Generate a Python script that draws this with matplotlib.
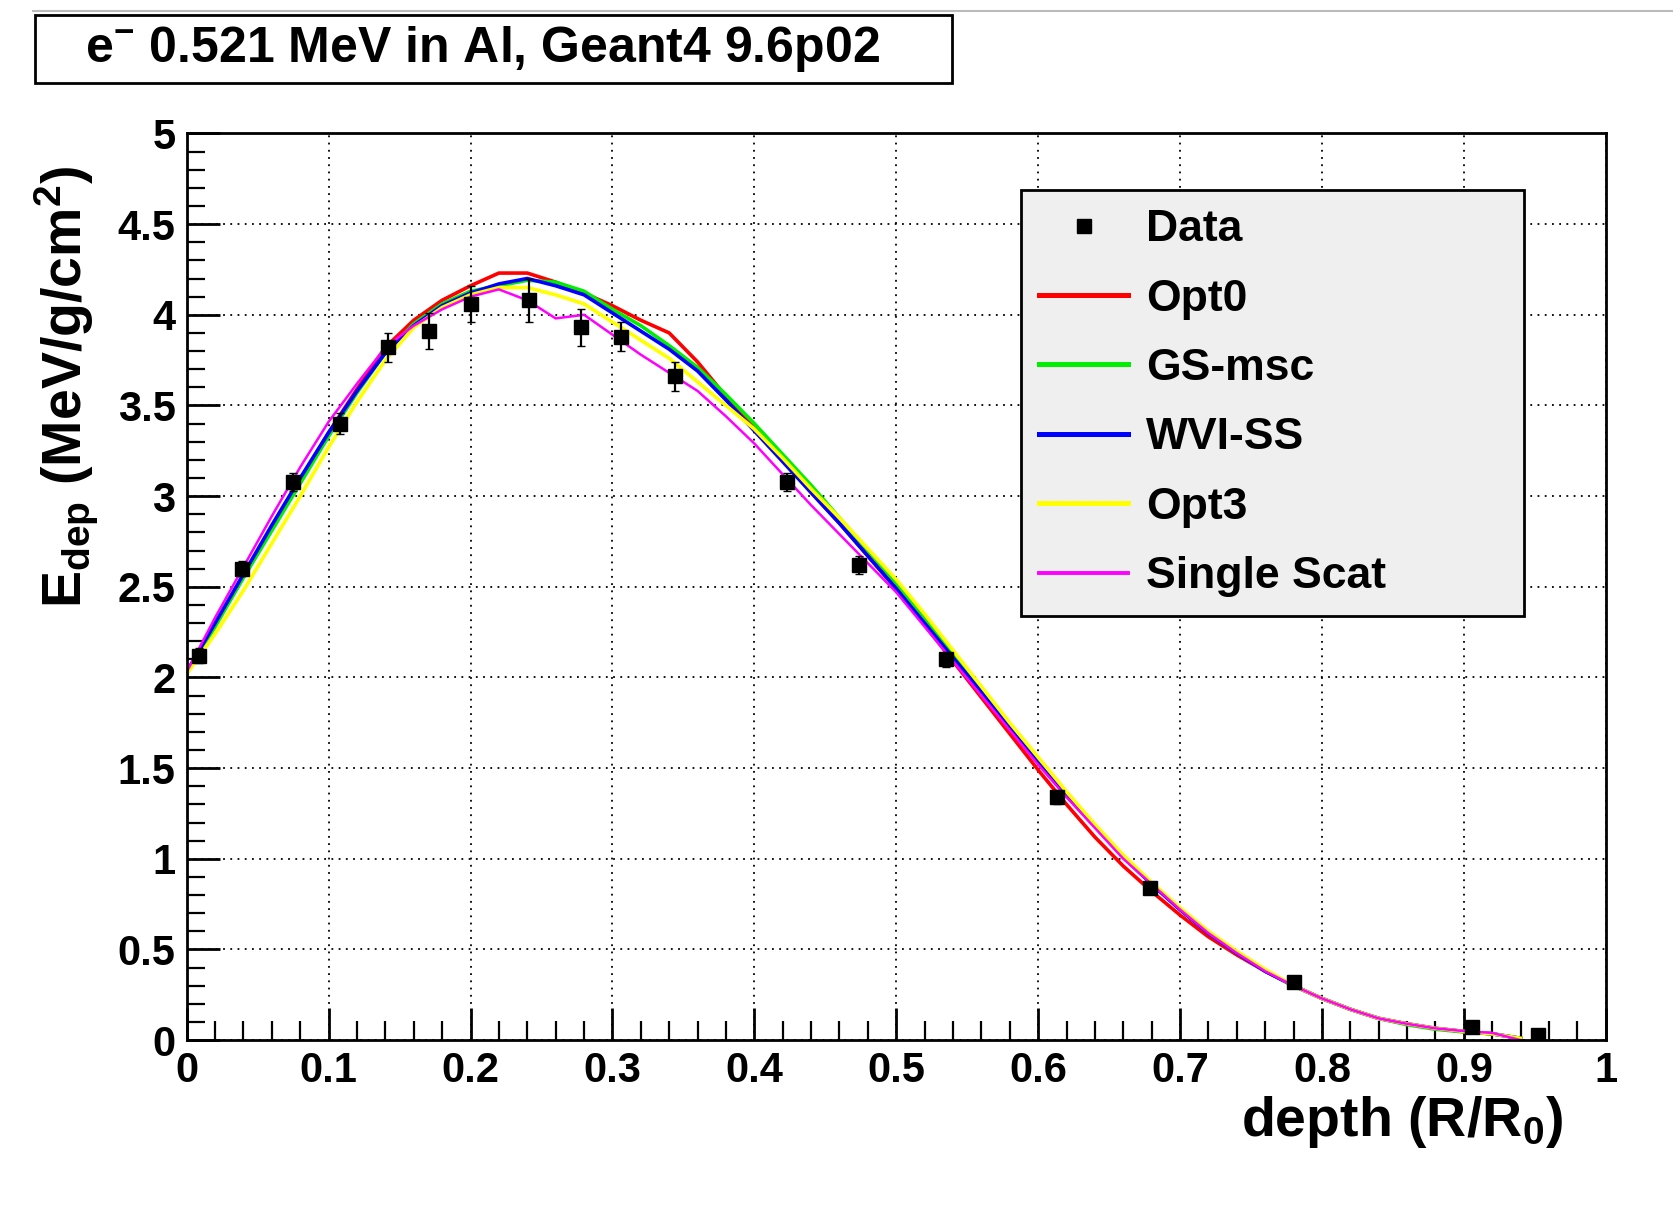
import matplotlib
matplotlib.use("Agg")
from matplotlib import pyplot as plt
from matplotlib.patches import Rectangle
from matplotlib.lines import Line2D
from matplotlib.ticker import MultipleLocator, FuncFormatter

plt.rcParams['font.family'] = ['Liberation Sans', 'DejaVu Sans']
plt.rcParams['font.weight'] = 'bold'
plt.rcParams['mathtext.fontset'] = 'custom'
plt.rcParams['mathtext.rm'] = 'Liberation Sans:bold'
plt.rcParams['mathtext.it'] = 'Liberation Sans:bold'
plt.rcParams['mathtext.bf'] = 'Liberation Sans:bold'

# measured data (black squares)
data_x = [0.009, 0.039, 0.075, 0.108, 0.142, 0.171, 0.200, 0.241, 0.278, 0.306,
          0.344, 0.423, 0.474, 0.535, 0.613, 0.679, 0.780, 0.906, 0.952]
data_y = [2.12, 2.60, 3.08, 3.40, 3.82, 3.91, 4.06, 4.08, 3.93, 3.88,
          3.66, 3.08, 2.62, 2.10, 1.34, 0.84, 0.32, 0.07, 0.03]
data_err = [0.04, 0.04, 0.05, 0.06, 0.08, 0.10, 0.10, 0.12, 0.10, 0.08,
            0.08, 0.05, 0.05, 0.04, 0.04, 0.03, 0.02, 0.01, 0.01]

# simulation depth bins
depth = [0.00, 0.02, 0.04, 0.06, 0.08, 0.10, 0.12, 0.14, 0.16, 0.18,
         0.20, 0.22, 0.24, 0.26, 0.28, 0.30, 0.32, 0.34, 0.36, 0.38,
         0.40, 0.42, 0.44, 0.46, 0.48, 0.50, 0.52, 0.54, 0.56, 0.58,
         0.60, 0.62, 0.64, 0.66, 0.68, 0.70, 0.72, 0.74, 0.76, 0.78,
         0.80, 0.82, 0.84, 0.86, 0.88, 0.90, 0.92, 0.94]

opt0 = [2.03, 2.29, 2.56, 2.83, 3.09, 3.35, 3.59, 3.82, 3.97, 4.08,
        4.16, 4.23, 4.23, 4.18, 4.12, 4.05, 3.97, 3.90, 3.74, 3.55,
        3.38, 3.20, 3.02, 2.85, 2.67, 2.49, 2.29, 2.09, 1.89, 1.69,
        1.49, 1.30, 1.12, 0.96, 0.82, 0.69, 0.57, 0.47, 0.38, 0.30,
        0.23, 0.17, 0.12, 0.09, 0.065, 0.048, 0.035, 0.01]
gs_msc = [2.02, 2.28, 2.55, 2.81, 3.07, 3.33, 3.57, 3.79, 3.95, 4.06,
          4.13, 4.16, 4.19, 4.18, 4.13, 4.03, 3.94, 3.83, 3.71, 3.56,
          3.40, 3.23, 3.06, 2.88, 2.70, 2.52, 2.33, 2.13, 1.93, 1.73,
          1.54, 1.35, 1.18, 1.01, 0.86, 0.72, 0.59, 0.48, 0.38, 0.30,
          0.23, 0.17, 0.12, 0.085, 0.06, 0.045, 0.035, 0.01]
wvi_ss = [2.03, 2.30, 2.57, 2.84, 3.10, 3.35, 3.58, 3.79, 3.94, 4.05,
          4.12, 4.17, 4.20, 4.16, 4.11, 4.01, 3.91, 3.81, 3.69, 3.53,
          3.36, 3.19, 3.02, 2.85, 2.67, 2.49, 2.30, 2.11, 1.92, 1.72,
          1.53, 1.35, 1.18, 1.01, 0.86, 0.72, 0.59, 0.48, 0.38, 0.30,
          0.23, 0.17, 0.12, 0.09, 0.065, 0.048, 0.035, 0.01]
opt3 = [2.02, 2.24, 2.48, 2.74, 3.00, 3.27, 3.52, 3.75, 3.93, 4.04,
        4.11, 4.15, 4.15, 4.11, 4.06, 3.96, 3.86, 3.76, 3.63, 3.50,
        3.37, 3.21, 3.04, 2.88, 2.71, 2.54, 2.35, 2.15, 1.95, 1.75,
        1.56, 1.37, 1.19, 1.02, 0.87, 0.73, 0.60, 0.49, 0.39, 0.30,
        0.23, 0.17, 0.12, 0.09, 0.065, 0.048, 0.035, 0.01]
single_scat = [2.03, 2.33, 2.61, 2.89, 3.16, 3.41, 3.62, 3.82, 3.94, 4.03,
               4.10, 4.14, 4.08, 3.98, 4.00, 3.89, 3.78, 3.68, 3.58, 3.44,
               3.29, 3.12, 2.95, 2.79, 2.63, 2.47, 2.28, 2.09, 1.90, 1.71,
               1.52, 1.34, 1.17, 1.00, 0.86, 0.72, 0.59, 0.48, 0.38, 0.30,
               0.23, 0.17, 0.12, 0.09, 0.065, 0.05, 0.04, 0.0]

series = [("Opt0", opt0, "#ff0000", 2.6),
          ("GS-msc", gs_msc, "#00ee00", 2.6),
          ("WVI-SS", wvi_ss, "#0000ff", 2.6),
          ("Opt3", opt3, "#ffff00", 2.6),
          ("Single Scat", single_scat, "#ff00ff", 1.8)]

fig = plt.figure(figsize=(16.73, 12.13), dpi=100)
ax = fig.add_axes([0.1116, 0.1425, 0.8482, 0.7475])

for name, vals, color, lw in series:
    ax.plot(depth, vals, color=color, linewidth=lw)
ax.errorbar(data_x, data_y, yerr=data_err, fmt='s', color='black',
            markersize=10, elinewidth=1.6, capsize=3, zorder=5)

ax.set_xlim(0, 1)
ax.set_ylim(0, 5)
ax.xaxis.set_major_locator(MultipleLocator(0.1))
ax.xaxis.set_minor_locator(MultipleLocator(0.02))
ax.yaxis.set_major_locator(MultipleLocator(0.5))
ax.yaxis.set_minor_locator(MultipleLocator(0.1))
fmt = FuncFormatter(lambda v, p: "%g" % round(v, 2))
ax.xaxis.set_major_formatter(fmt)
ax.yaxis.set_major_formatter(fmt)
ax.tick_params(axis='x', which='major', direction='in', length=23, width=2,
               labelsize=30, pad=8)
ax.tick_params(axis='x', which='minor', direction='in', length=14, width=1.6)
ax.tick_params(axis='y', which='major', direction='in', length=24, width=2,
               labelsize=30, pad=8)
ax.tick_params(axis='y', which='minor', direction='in', length=13, width=1.6)
for lab in ax.get_xticklabels() + ax.get_yticklabels():
    lab.set_fontweight('bold')
for sp in ax.spines.values():
    sp.set_linewidth(2)
ax.grid(True, which='major', color='black', linestyle=(0, (1, 3)), linewidth=1.3)

fig.text(0.934, 0.0985, r"depth (R/R$_{\mathrm{0}}$)", fontsize=40,
         fontweight='bold', ha='right', va='top')
fig.text(0.0395, 0.8637, r"E$_{\mathrm{dep}}$ (MeV/g/cm$^{\mathrm{2}}$)",
         fontsize=40, fontweight='bold', rotation=90, ha='center', va='top')

handles = [Line2D([], [], marker='s', color='black', linestyle='none', markersize=10)]
for name, vals, color, lw in series:
    handles.append(Line2D([], [], color=color, linewidth=lw + 1))
labels = ["Data"] + [s[0] for s in series]
leg = fig.legend(handles, labels, loc='upper left',
                 bbox_to_anchor=(0.610, 0.492, 0.301, 0.351), mode='expand',
                 prop={'size': 32, 'weight': 'bold'}, frameon=True, fancybox=False,
                 facecolor='#efefef', edgecolor='black', framealpha=1,
                 borderpad=0.42, labelspacing=0.64, handlelength=2.0,
                 handletextpad=0.4, borderaxespad=0)
leg.get_frame().set_linewidth(2)

# title box
fig.patches.append(Rectangle((0.021, 0.9314), 0.548, 0.0563, transform=fig.transFigure,
                             facecolor='white', edgecolor='black', linewidth=2))
fig.text(0.051, 0.9595, r"e$^{\mathrm{-}}$ 0.521 MeV in Al, Geant4 9.6p02", fontsize=36,
         fontweight='bold', ha='left', va='center')
fig.add_artist(Line2D([0.02, 1.0], [0.9912, 0.9912], transform=fig.transFigure,
                      color='#bbbbbb', linewidth=1.5))

plt.savefig("out.png", dpi=100)
plt.close()
